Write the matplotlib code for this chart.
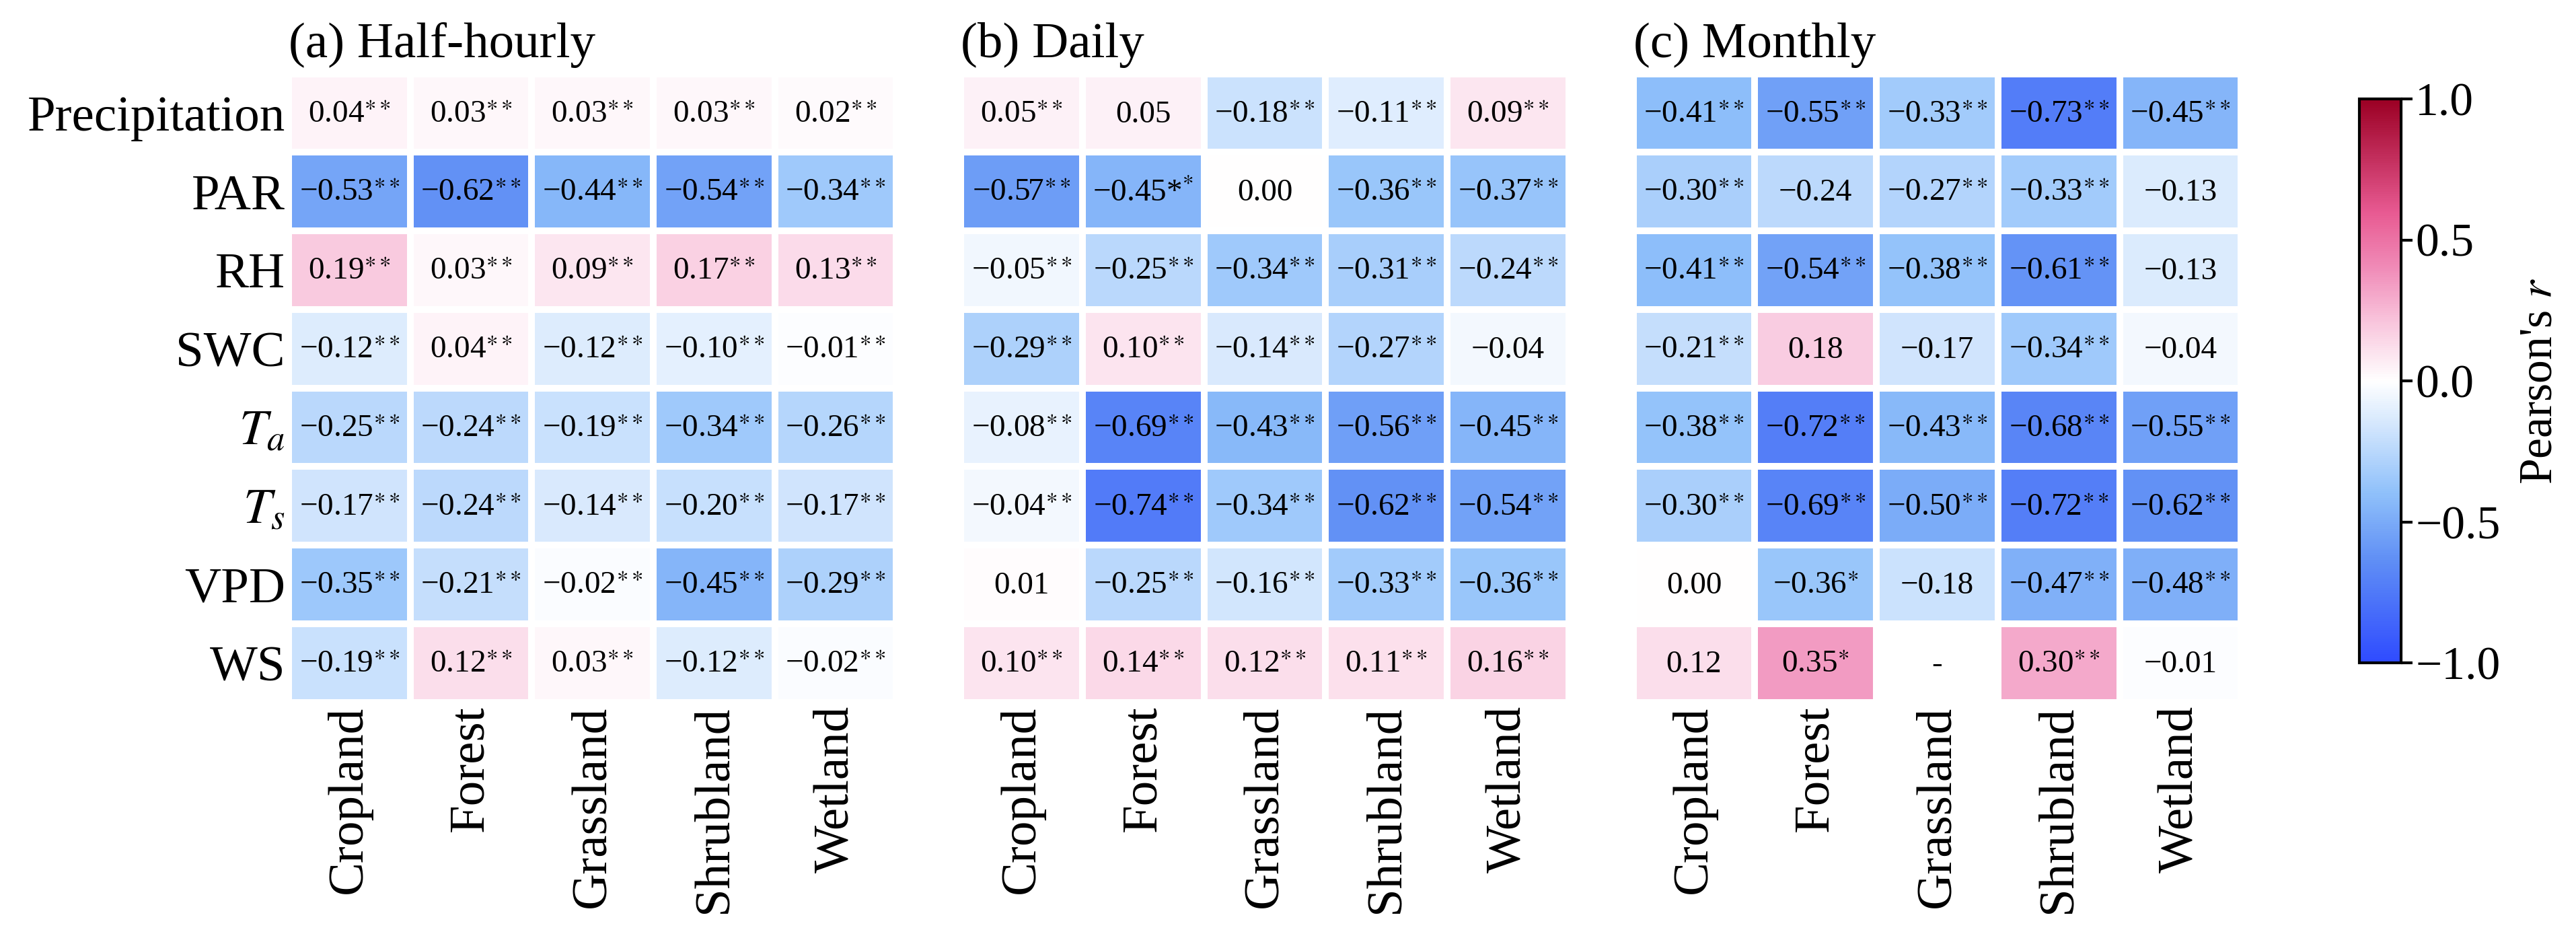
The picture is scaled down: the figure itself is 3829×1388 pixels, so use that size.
import numpy as np
import matplotlib
matplotlib.use("Agg")
import matplotlib.pyplot as plt
from matplotlib.colors import LinearSegmentedColormap

plt.rcParams['font.family'] = ['Liberation Serif', 'DejaVu Serif']
plt.rcParams['mathtext.fontset'] = 'stix'

rows = ['Precipitation', 'PAR', 'RH', 'SWC', r'$T_a$', r'$T_s$', 'VPD', 'WS']
cols = ['Cropland', 'Forest', 'Grassland', 'Shrubland', 'Wetland']
titles = ['(a) Half-hourly', '(b) Daily', '(c) Monthly']

half_vals = [[0.04, 0.03, 0.03, 0.03, 0.02],
             [-0.53, -0.62, -0.44, -0.54, -0.34],
             [0.19, 0.03, 0.09, 0.17, 0.13],
             [-0.12, 0.04, -0.12, -0.10, -0.01],
             [-0.25, -0.24, -0.19, -0.34, -0.26],
             [-0.17, -0.24, -0.14, -0.20, -0.17],
             [-0.35, -0.21, -0.02, -0.45, -0.29],
             [-0.19, 0.12, 0.03, -0.12, -0.02]]
half_sig = [['**'] * 5 for _ in range(8)]

daily_vals = [[0.05, 0.05, -0.18, -0.11, 0.09],
              [-0.57, -0.45, 0.00, -0.36, -0.37],
              [-0.05, -0.25, -0.34, -0.31, -0.24],
              [-0.29, 0.10, -0.14, -0.27, -0.04],
              [-0.08, -0.69, -0.43, -0.56, -0.45],
              [-0.04, -0.74, -0.34, -0.62, -0.54],
              [0.01, -0.25, -0.16, -0.33, -0.36],
              [0.10, 0.14, 0.12, 0.11, 0.16]]
daily_sig = [['**', '', '**', '**', '**'],
             ['**', '*|*', '', '**', '**'],
             ['**', '**', '**', '**', '**'],
             ['**', '**', '**', '**', ''],
             ['**', '**', '**', '**', '**'],
             ['**', '**', '**', '**', '**'],
             ['', '**', '**', '**', '**'],
             ['**', '**', '**', '**', '**']]

monthly_vals = [[-0.41, -0.55, -0.33, -0.73, -0.45],
                [-0.30, -0.24, -0.27, -0.33, -0.13],
                [-0.41, -0.54, -0.38, -0.61, -0.13],
                [-0.21, 0.18, -0.17, -0.34, -0.04],
                [-0.38, -0.72, -0.43, -0.68, -0.55],
                [-0.30, -0.69, -0.50, -0.72, -0.62],
                [0.00, -0.36, -0.18, -0.47, -0.48],
                [0.12, 0.35, np.nan, 0.30, -0.01]]
monthly_sig = [['**', '**', '**', '**', '**'],
               ['**', '', '**', '**', ''],
               ['**', '**', '**', '**', ''],
               ['**', '', '', '**', ''],
               ['**', '**', '**', '**', '**'],
               ['**', '**', '**', '**', '**'],
               ['', '*', '', '**', '**'],
               ['', '*', '', '**', '']]

cmap = LinearSegmentedColormap.from_list('pr', [
    (0.0, '#2f4bff'), (0.18, '#5f8ef5'), (0.3, '#8fc0fa'), (0.5, '#ffffff'),
    (0.6, '#f9c8de'), (0.7, '#f08cb8'), (0.8, '#e85a92'), (1.0, '#9b0024')])

fig = plt.figure(figsize=(38.29, 13.88), dpi=100)
lefts = [0.112, 0.373, 0.634]
w = 0.236
bottom, top = 0.248, 0.921
panels = [(half_vals, half_sig), (daily_vals, daily_sig), (monthly_vals, monthly_sig)]

im = None
for k, (vals, sig) in enumerate(panels):
    ax = fig.add_axes([lefts[k], bottom, w, top - bottom])
    arr = np.array(vals, dtype=float)
    im = ax.pcolormesh(np.ma.masked_invalid(arr), cmap=cmap, vmin=-1, vmax=1,
                       edgecolors='white', linewidth=7)
    ax.set_xlim(0, 5)
    ax.set_ylim(8, 0)
    for s in ax.spines.values():
        s.set_visible(False)
    ax.tick_params(length=0, labelsize=54)
    ax.set_xticks(np.arange(5) + 0.5)
    ax.set_xticklabels(cols, rotation=90)
    ax.set_yticks(np.arange(8) + 0.5)
    if k == 0:
        ax.set_yticklabels(rows)
    else:
        ax.set_yticklabels([])
    ax.set_title(titles[k], fontsize=54, loc='left', x=0.0, pad=18)
    for i in range(8):
        for j in range(5):
            v = arr[i, j]
            if np.isnan(v):
                txt = '-'
            else:
                s = f'{v:.2f}'.replace('-', '\u2212')
                st = sig[i][j]
                if st == '*|*':
                    txt = s + r'*$^{*}$'
                elif st:
                    txt = s + r'$^{' + st.replace('*', r'\ast') + '}$'
                else:
                    txt = s
            ax.text(j + 0.5, i + 0.52, txt, ha='center', va='center', fontsize=34)

cax = fig.add_axes([0.916, 0.29, 0.016, 0.604])
cb = fig.colorbar(im, cax=cax)
cb.set_ticks([-1, -0.5, 0, 0.5, 1])
cb.set_ticklabels(['\u22121.0', '\u22120.5', '0.0', '0.5', '1.0'])
cb.ax.tick_params(labelsize=50, width=3, length=12)
cb.outline.set_linewidth(3)
cb.set_label("Pearson's $r$", fontsize=50, labelpad=20)

fig.savefig('out.png', dpi=100)
